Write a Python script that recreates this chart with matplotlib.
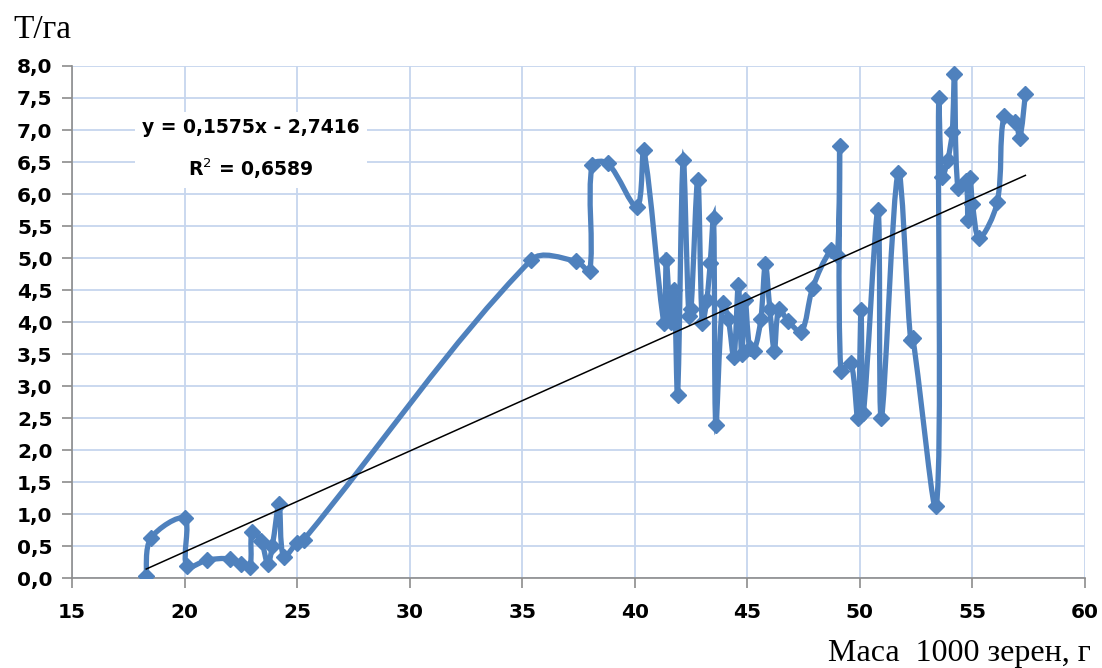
import matplotlib
matplotlib.use("Agg")
import matplotlib.pyplot as plt
from matplotlib.path import Path
from matplotlib.patches import PathPatch
import numpy as np

# mass of 1000 grains (g) and yield (t/ha), in series order
mass = [18.3, 18.5, 20.0, 20.1, 21.0, 22.0, 22.5, 22.9, 23.0, 23.4, 23.7, 23.9,
        24.2, 24.4, 25.0, 25.3,
        35.4, 37.4, 38.0, 38.1, 38.8, 40.1, 40.4,
        41.3, 41.4, 41.6, 41.75, 41.9, 42.15, 42.4, 42.5, 42.8, 43.0, 43.2, 43.35,
        43.5, 43.6, 43.9, 44.15, 44.4, 44.6, 44.75, 44.9, 45.1, 45.3, 45.6, 45.8,
        46.0, 46.2, 46.4, 46.8, 47.4, 47.9,
        48.7, 49.0, 49.1, 49.15, 49.6, 49.9, 50.05, 50.15, 50.8, 50.95, 51.7,
        52.25, 52.35, 53.4, 53.5, 53.65, 53.9, 54.1, 54.2, 54.35, 54.7, 54.8,
        54.9, 55.0, 55.3, 56.1, 56.4, 56.9, 57.1, 57.35]
yield_t = [0.03, 0.62, 0.93, 0.18, 0.28, 0.3, 0.22, 0.17, 0.72, 0.58, 0.22, 0.5,
           1.15, 0.33, 0.55, 0.6,
           4.97, 4.95, 4.8, 6.45, 6.48, 5.8, 6.68,
           3.98, 4.97, 4.0, 4.5, 2.86, 6.53, 4.1, 4.2, 6.22, 3.98, 4.35, 4.92,
           5.63, 2.39, 4.3, 4.05, 3.45, 4.58, 3.5, 4.35, 3.6, 3.55, 4.05, 4.9,
           4.2, 3.55, 4.2, 4.02, 3.85, 4.53,
           5.12, 5.05, 6.75, 3.24, 3.36, 2.5, 4.19, 2.58, 5.75, 2.5, 6.33,
           3.72, 3.75, 1.12, 7.5, 6.27, 6.53, 6.97, 7.87, 6.1, 6.2, 5.6,
           6.25, 5.85, 5.31, 5.87, 7.22, 7.13, 6.88, 7.56]

slope, intercept = 0.1575, -2.7416
eq_text = "y = 0,1575x - 2,7416\nR$^2$ = 0,6589"

xticks = np.arange(15, 61, 5)
yticks = np.arange(0, 8.01, 0.5)

blue = "#4F81BD"
grid_c = "#C6D6EE"


def smooth_path(xs, ys, sx=22.5, sy=64.0):
    # bezier through every point, tangents scaled by neighbouring chord lengths
    p = np.column_stack([xs, ys])
    n = len(p)
    scale = np.array([sx, sy])

    def dist(a, b):
        return np.hypot(*((a - b) * scale)) + 1e-9

    verts = [p[0]]
    codes = [Path.MOVETO]
    for i in range(n - 1):
        p0 = p[i - 1] if i > 0 else p[i]
        p1 = p[i]
        p2 = p[i + 1]
        p3 = p[i + 2] if i + 2 < n else p[i + 1]
        d01, d12, d23 = dist(p0, p1), dist(p1, p2), dist(p2, p3)
        if i == 0:
            d01 = d12
        if i + 2 >= n:
            d23 = d12
        c1 = p1 + (p2 - p0) * d12 / (d01 + d12) / 3.0
        c2 = p2 - (p3 - p1) * d12 / (d12 + d23) / 3.0
        verts += [c1, c2, p2]
        codes += [Path.CURVE4] * 3
    return Path(verts, codes)


fig = plt.figure(figsize=(11.02, 6.68), dpi=100)
ax = fig.add_axes([0.0653, 0.1347, 0.9193, 0.7665])

ax.set_xlim(15, 60)
ax.set_ylim(0, 8)
ax.set_xticks(xticks)
ax.set_yticks(yticks)
ax.set_xticklabels([str(v) for v in xticks])
ax.set_yticklabels([f"{v:.1f}".replace(".", ",") for v in yticks])
ax.grid(True, color=grid_c, linewidth=1.3)
ax.set_axisbelow(True)

for s in ["top", "right"]:
    ax.spines[s].set_visible(False)
for s in ["left", "bottom"]:
    ax.spines[s].set_color("#8C8C8C")
    ax.spines[s].set_linewidth(1.2)
ax.tick_params(axis="both", color="#8C8C8C", length=7, width=1.2,
               labelsize=14.5)
ax.tick_params(axis="x", pad=11)
ax.tick_params(axis="y", pad=7)
for lab in ax.get_xticklabels() + ax.get_yticklabels():
    lab.set_fontweight("bold")
    lab.set_family("DejaVu Sans")

ax.add_patch(PathPatch(smooth_path(mass, yield_t), fill=False,
                       edgecolor=blue, linewidth=3.8, zorder=3))
ax.plot(mass, yield_t, linestyle="none", marker="D", markersize=8.5,
        color=blue, zorder=4)

tx = np.array([min(mass), max(mass)])
ax.plot(tx, slope * tx + intercept, color="black", linewidth=1.1, zorder=5)

ax.text(22.95, 6.69, eq_text, ha="center", va="center", fontsize=13.5,
        fontweight="bold", linespacing=2.0,
        bbox=dict(facecolor="white", edgecolor="none", pad=5), zorder=6)

fig.text(0.012, 0.955, "Т/га", fontsize=24, family="Liberation Serif",
         ha="left", va="center")
fig.text(0.99, 0.022, "Маса  1000 зерен, г", fontsize=23,
         family="Liberation Serif", ha="right", va="center")

fig.savefig("out.png", dpi=100)
